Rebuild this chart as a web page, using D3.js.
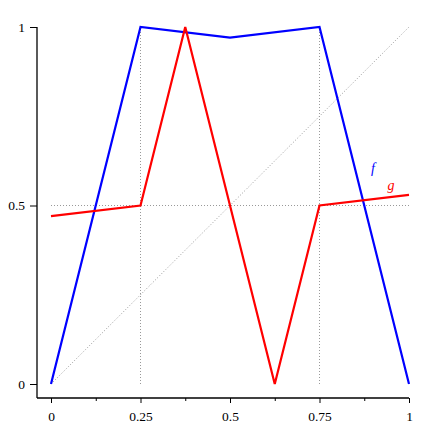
<!DOCTYPE html>
<html><head><meta charset="utf-8">
<script src="https://cdn.jsdelivr.net/npm/d3@7"></script>
<style>body{margin:0;background:#fff}svg{display:block}</style>
</head><body>
<script>
const fX = [0, 0.25, 0.5, 0.75, 1];
const fY = [0, 1, 0.97, 1, 0];
const gX = [0, 0.25, 0.375, 0.625, 0.75, 1];
const gY = [0.47, 0.5, 1, 0, 0.5, 0.53];
const xTicks = [0, 0.25, 0.5, 0.75, 1];
const xMinorTicks = [0.125, 0.375, 0.625, 0.875];
const yTicks = [0, 0.5, 1];

const W = 436, H = 436;
const FONT = "Times New Roman, Liberation Serif, serif";
const svg = d3.select("body").append("svg").attr("width", W).attr("height", H);
const x = d3.scaleLinear().domain([0, 1]).range([51, 409]);
const y = d3.scaleLinear().domain([0, 1]).range([384, 27]);

const grey = svg.append("g").attr("stroke", "#999").attr("stroke-width", 1).attr("stroke-dasharray", "1,2").attr("fill", "none");
grey.append("line").attr("x1", x(0)).attr("y1", y(0)).attr("x2", x(1)).attr("y2", y(1));
grey.append("line").attr("x1", x(0)).attr("y1", y(0.5)).attr("x2", x(1)).attr("y2", y(0.5));
[0.25, 0.75].forEach(v => grey.append("line").attr("x1", x(v)).attr("y1", y(0)).attr("x2", x(v)).attr("y2", y(1)));

const xAxisY = 398, yAxisX = 37;
const xa = svg.append("g").attr("transform", `translate(0,${xAxisY})`)
  .call(d3.axisBottom(x).tickValues(xTicks).tickSize(5).tickPadding(8).tickFormat(d => d3.format("")(d)));
xa.select(".domain").attr("d", `M${yAxisX},0H${x(1)}`);
const xm = svg.append("g").attr("transform", `translate(0,${xAxisY})`)
  .call(d3.axisBottom(x).tickValues(xMinorTicks).tickSize(3).tickFormat(""));
xm.select(".domain").remove();

const ya = svg.append("g").attr("transform", `translate(${yAxisX},0)`)
  .call(d3.axisLeft(y).tickValues(yTicks).tickSize(7).tickPadding(5).tickFormat(d => d3.format("")(d)));
ya.select(".domain").attr("d", `M0,${xAxisY}V${y(1)}`);
svg.selectAll(".tick line").attr("stroke", "#000");
svg.selectAll(".tick text").attr("fill", "#000").attr("font-family", null).attr("font-size", null)
  .attr("style", "font-family:" + FONT + ";font-size:13.5px");
svg.selectAll("g").attr("font-family", null).attr("font-size", null);
svg.selectAll(".domain").attr("stroke", "#000").attr("stroke-width", 1.3);

const line = d3.line().x(d => x(d[0])).y(d => y(d[1]));
svg.append("path").datum(fX.map((v, i) => [v, fY[i]])).attr("d", line)
  .attr("fill", "none").attr("stroke", "#0000ff").attr("stroke-width", 2.2).attr("stroke-linejoin", "miter");
svg.append("path").datum(gX.map((v, i) => [v, gY[i]])).attr("d", line)
  .attr("fill", "none").attr("stroke", "#ff0000").attr("stroke-width", 2.2).attr("stroke-linejoin", "miter");

svg.append("text").attr("x", 373).attr("y", 173).attr("text-anchor", "middle")
  .attr("style", "font-family:" + FONT + ";font-style:italic;font-size:14px").attr("fill", "#0000ff").text("f");
svg.append("text").attr("x", 391).attr("y", 190).attr("text-anchor", "middle")
  .attr("style", "font-family:" + FONT + ";font-style:italic;font-size:14px").attr("fill", "#ff0000").text("g");
</script>
</body></html>
